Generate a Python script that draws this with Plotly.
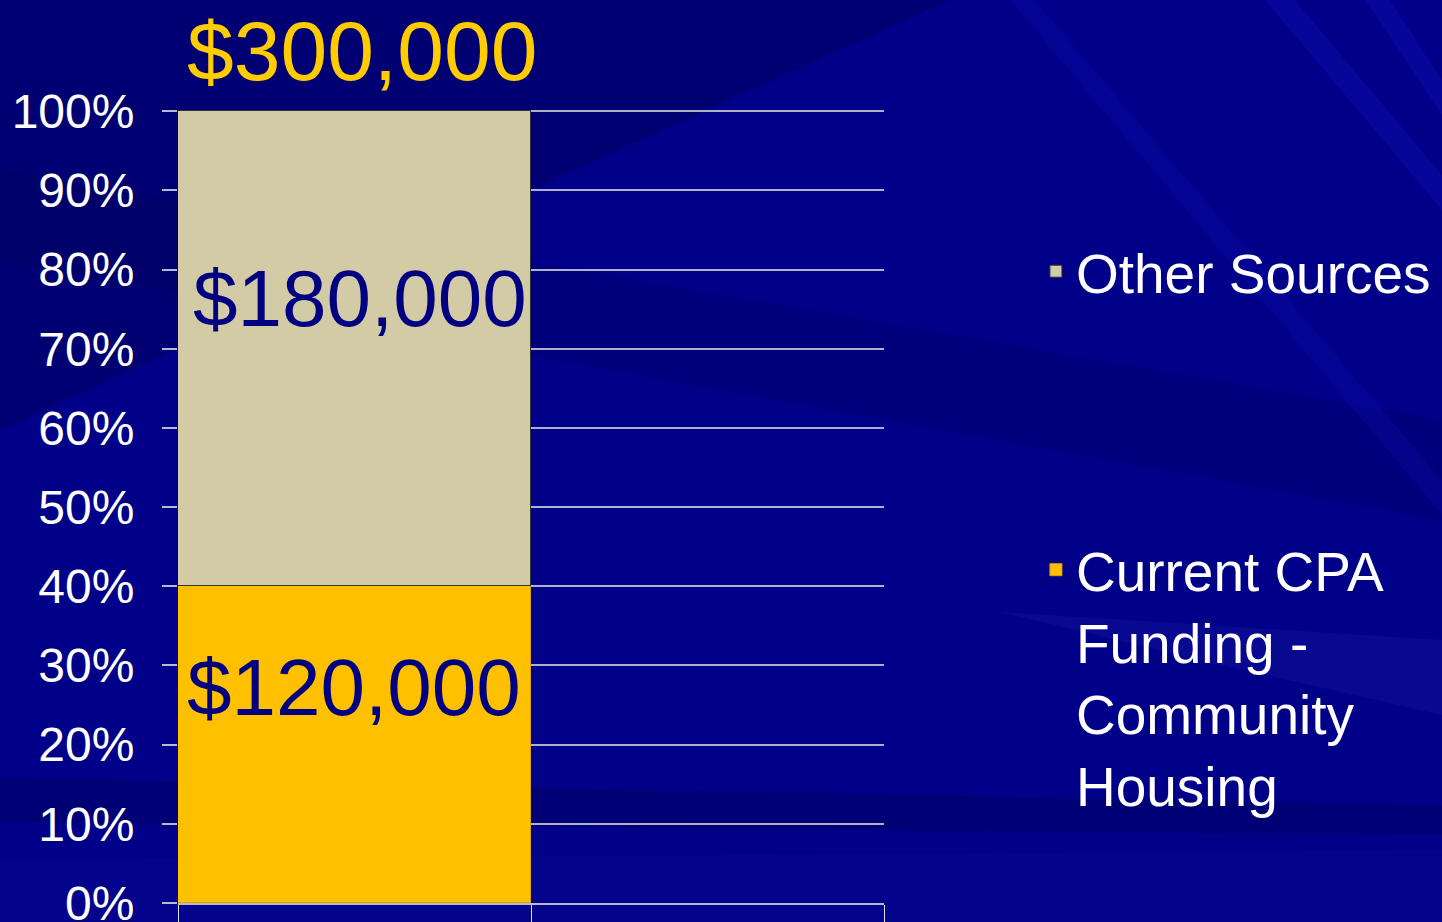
import plotly.graph_objects as go

# ---- data ----
categories = ["Community Housing", " "]
series_names = ["Current CPA<br>Funding -<br>Community<br>Housing", "Other Sources"]
cpa_values = [120000, None]
other_values = [180000, None]
total_label = "$300,000"
y_ticks = [0, 10, 20, 30, 40, 50, 60, 70, 80, 90, 100]
y_tick_labels = [f"{v}%" for v in y_ticks]

W, H = 1442, 922
L, R, T, B = 178, 884, 110, 903
FONT = "Liberation Sans, Arial, sans-serif"


def px(xp, yp):
    """pixel position -> paper coordinates (decoration only)"""
    return (xp - L) / (R - L), (B - yp) / (B - T)


def poly(points, color):
    pts = [px(a, b) for a, b in points]
    path = "M " + " L ".join(f"{a:.4f},{b:.4f}" for a, b in pts) + " Z"
    return dict(type="path", xref="paper", yref="paper", path=path,
                fillcolor=color, line=dict(width=0), layer="below")


fig = go.Figure()
fig.add_trace(go.Bar(
    x=categories, y=cpa_values, name=series_names[0],
    marker=dict(color="#FFC000", line=dict(color="#D9A300", width=1)),
    legendgroup="cpa", legendrank=2, width=1.0,
))
fig.add_trace(go.Bar(
    x=categories, y=other_values, name=series_names[1],
    marker=dict(color="#D3CBA5", line=dict(color="#333333", width=1)),
    legendgroup="other", legendrank=1, width=1.0,
))

total = cpa_values[0] + other_values[0]
cpa_pct = cpa_values[0] / total * 100
other_pct = other_values[0] / total * 100

annotations = [
    dict(x=categories[0], y=cpa_pct / 2, text=f"${cpa_values[0]:,}",
         showarrow=False, yshift=57, xshift=-1,
         font=dict(family=FONT, size=80, color="#000080")),
    dict(x=categories[0], y=cpa_pct + other_pct / 2, text=f"${other_values[0]:,}",
         showarrow=False, yshift=50, xshift=5,
         font=dict(family=FONT, size=80, color="#000080")),
    dict(x=categories[0], y=100, text=total_label,
         showarrow=False, yshift=60, xshift=7,
         font=dict(family=FONT, size=84, color="#FFCC00")),
]

shapes = [
    poly([(0, 0), (950, 0), (0, 430)], "rgba(0,0,50,0.25)"),
    poly([(0, 170), (1442, 420), (1442, 520), (0, 260)], "rgba(0,0,50,0.12)"),
    poly([(1010, 0), (1035, 0), (1442, 480), (1442, 515)], "rgba(20,20,190,0.22)"),
    poly([(1265, 0), (1295, 0), (1442, 175), (1442, 210)], "rgba(20,20,190,0.32)"),
    poly([(1365, 0), (1390, 0), (1442, 80), (1442, 115)], "rgba(20,20,190,0.32)"),
    poly([(1000, 612), (1442, 640), (1442, 715), (1200, 660)], "rgba(60,60,200,0.14)"),
    poly([(0, 778), (1442, 805), (1442, 835), (0, 822)], "rgba(0,0,50,0.22)"),
    poly([(0, 860), (1442, 850), (1442, 922), (0, 922)], "rgba(20,20,170,0.15)"),
]

fig.update_layout(
    width=W, height=H, autosize=False,
    margin=dict(l=L, r=W - R, t=T, b=H - B, pad=0, autoexpand=False),
    paper_bgcolor="#000088",
    plot_bgcolor="rgba(0,0,0,0)",
    barmode="stack", barnorm="percent", bargap=0,
    font=dict(family=FONT, color="white"),
    annotations=annotations,
    shapes=shapes,
    legend=dict(
        x=1.2152, y=0.85, xanchor="left", yanchor="top",
        bgcolor="rgba(0,0,0,0)", valign="top",
        traceorder="grouped", tracegroupgap=224,
        font=dict(family=FONT, size=55, color="white"),
        itemclick=False, itemdoubleclick=False,
    ),
    xaxis=dict(
        type="category", categoryorder="array", categoryarray=categories,
        range=[-0.5, 1.5], showticklabels=False, showgrid=False,
        ticks="outside", tickson="boundaries", ticklen=20,
        tickcolor="#E0E0F0", tickwidth=1,
        showline=True, linecolor="#B8B8D0", linewidth=2,
        zeroline=False, fixedrange=True, automargin=False,
    ),
    yaxis=dict(
        range=[0, 100.15], tickvals=y_ticks, ticktext=y_tick_labels,
        tickfont=dict(family=FONT, size=48, color="white"),
        ticks="outside", ticklen=15, tickcolor="#B8B8D0", tickwidth=2,
        showgrid=True, gridcolor="#B0B0CC", gridwidth=1.5,
        showline=False, zeroline=False, ticklabelstandoff=18,
        ticklabeloverflow="allow",
        fixedrange=True, automargin=False,
    ),
)

fig.write_html(
    "out.html",
    config={"displayModeBar": False, "responsive": False},
    post_script=(
        "document.body.style.margin='0';"
        "document.body.style.overflow='hidden';"
        "document.documentElement.style.overflow='hidden';"
        "document.body.style.background='#000088';"
    ),
)
